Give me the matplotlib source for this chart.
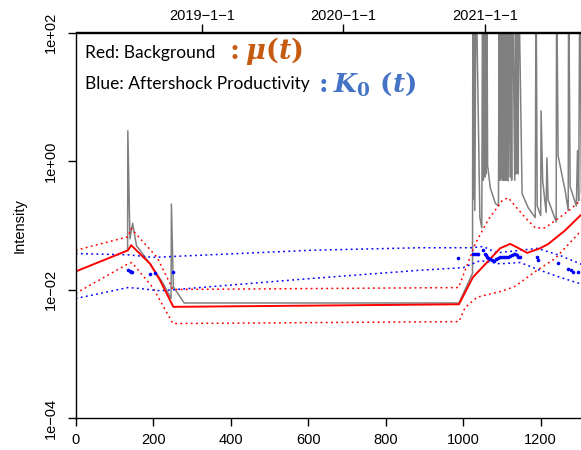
import matplotlib
matplotlib.use('Agg')
import matplotlib.pyplot as plt
import numpy as np
import pandas as pd

plt.rcParams['font.family'] = 'Liberation Sans'
plt.rcParams['mathtext.fontset'] = 'custom'
plt.rcParams['mathtext.it'] = 'DejaVu Serif:italic:bold'
plt.rcParams['mathtext.rm'] = 'DejaVu Serif:bold'

# all intensities below are log10 values
# background mu(t) and its band
mu_t = [0, 135, 143, 192, 218, 252, 989, 1025, 1061, 1095, 1121, 1141, 1165, 1198, 1220, 1263, 1302, 1320]
mu = [-1.72, -1.39, -1.31, -1.60, -1.86, -2.27, -2.23, -1.81, -1.58, -1.36, -1.29, -1.35, -1.43, -1.36, -1.29, -1.08, -0.85, -0.78]

mu_hi_t = [0, 135, 143, 210, 251, 988, 1031, 1064, 1100, 1116, 1134, 1160, 1186, 1211, 1237, 1271, 1302, 1320]
mu_hi = [-1.39, -1.18, -1.05, -1.50, -2.0, -1.97, -1.29, -0.92, -0.62, -0.57, -0.70, -0.88, -1.04, -1.04, -0.93, -0.78, -0.62, -0.55]

mu_lo_t = [0, 135, 145, 199, 251, 989, 1005, 1036, 1103, 1134, 1186, 1237, 1302, 1320]
mu_lo = [-2.06, -1.60, -1.58, -1.97, -2.53, -2.50, -2.28, -2.12, -2.02, -1.95, -1.72, -1.52, -1.10, -0.98]

# aftershock productivity K0(t): band and point estimates
k_hi_t = [0, 135, 199, 605, 889, 1025, 1051, 1087, 1191, 1250, 1302, 1320]
k_hi = [-1.44, -1.46, -1.50, -1.39, -1.35, -1.35, -1.33, -1.43, -1.36, -1.47, -1.60, -1.65]

k_lo_t = [0, 135, 158, 218, 605, 889, 1000, 1044, 1095, 1147, 1198, 1250, 1302, 1320]
k_lo = [-2.14, -1.97, -1.98, -2.02, -1.83, -1.70, -1.66, -1.55, -1.60, -1.58, -1.70, -1.81, -1.91, -1.95]

k0_t = [136, 139, 142, 146, 192, 205, 252, 987, 1025, 1030, 1035, 1038, 1052, 1055, 1058, 1061,
        1065, 1069, 1074, 1079, 1085, 1090, 1095, 1100, 1105, 1110, 1115, 1120, 1125, 1130, 1133,
        1138, 1142, 1147, 1190, 1193, 1245, 1271, 1278, 1284, 1296]
k0 = [-1.70, -1.71, -1.72, -1.73, -1.76, -1.75, -1.72, -1.51, -1.44, -1.44, -1.44, -1.44, -1.39, -1.44, -1.47, -1.49,
      -1.51, -1.53, -1.54, -1.55, -1.52, -1.51, -1.50, -1.50, -1.50, -1.50, -1.49, -1.48, -1.47, -1.45, -1.44,
      -1.47, -1.49, -1.50, -1.49, -1.54, -1.59, -1.68, -1.70, -1.72, -1.73]

# observed intensity (gray), spikes that run off the top are set to 3
gray_t = [134, 134.5, 140, 147, 150, 157, 192, 226, 246, 247, 252, 261, 280, 989, 1024,
          1025, 1027, 1028, 1030, 1033, 1043, 1048, 1050, 1052, 1054, 1056, 1057, 1059, 1061, 1063, 1070, 1083, 1091,
          1093, 1095, 1096, 1098, 1100, 1101, 1103, 1105, 1106, 1108, 1110, 1112, 1113, 1116, 1118, 1121, 1123,
          1125, 1127, 1133, 1135, 1136, 1139, 1142, 1143, 1152, 1168, 1186, 1188, 1191, 1200, 1201, 1205, 1214,
          1216, 1219, 1240, 1241, 1245, 1263, 1271, 1272, 1276, 1292, 1295, 1298, 1301, 1305, 1320]
gray = [-1.37, 0.47, -1.21, -0.97, -1.08, -1.32, -1.60, -1.91, -2.14, -0.67, -1.96, -2.04, -2.21, -2.21, -1.75,
        3, -0.60, 3, -0.77, 3, -0.88, -1.04, 3, -0.30, 3, -0.25, 3, -0.20, 3, -0.07, -0.42, -0.66, -0.70,
        3, -0.30, 3, -0.25, 3, -0.30, 3, -0.30, 3, -0.30, 3, -0.30, 3, -0.31, 3, -0.25, 3,
        -0.30, 3, -0.30, 3, -0.20, 3, -0.20, 3, -0.51, -0.73, -0.88, 3, -0.70, -0.85, 0.78, -0.30, -0.80,
        0.05, -0.60, -0.95, 3, 0.08, -0.46, -0.77, 3, -0.40, -0.70, 0.16, -0.62, 3, -0.50, -0.65]

x_ticks = [0, 200, 400, 600, 800, 1000, 1200]
y_ticks = [1e-4, 1e-2, 1e0, 1e2]
y_labels = ['1e\u221204', '1e\u221202', '1e+00', '1e+02']
start_date = '2018-02-09'
date_ticks = ['2019-01-01', '2020-01-01', '2021-01-01']
date_labels = ['2019\u22121\u22121', '2020\u22121\u22121', '2021\u22121\u22121']

fig = plt.figure(figsize=(5.81, 4.5), dpi=100)
ax = fig.add_axes([75.7/581, 32/450, 511.5/581, 385.5/450])

dots = (0, (1.2, 2.2))
ax.plot(gray_t, 10**np.array(gray), color='#808080', lw=1.1)
ax.plot(mu_hi_t, 10**np.array(mu_hi), color='red', lw=1.1, ls=dots)
ax.plot(mu_lo_t, 10**np.array(mu_lo), color='red', lw=1.1, ls=dots)
ax.plot(k_hi_t, 10**np.array(k_hi), color='blue', lw=1.1, ls=dots)
ax.plot(k_lo_t, 10**np.array(k_lo), color='blue', lw=1.1, ls=dots)
ax.plot(mu_t, 10**np.array(mu), color='red', lw=1.4)
ax.plot(k0_t, 10**np.array(k0), 'o', color='blue', ms=2.6, mec='none')

ax.set_yscale('log')
ax.set_xlim(0, 1320)
ax.set_ylim(1e-4, 1e2)
ax.minorticks_off()
ax.set_xticks(x_ticks)
ax.set_yticks(y_ticks, y_labels)
plt.setp(ax.get_yticklabels(), rotation=90, va='center')
ax.tick_params(direction='out', length=6, width=1, labelsize=10.5)
ax.tick_params(axis='y', pad=7)
ax.tick_params(axis='x', pad=4.5)
ax.set_ylabel('Intensity', fontsize=10.5, labelpad=12)
for s in ax.spines.values():
    s.set_linewidth(1)
ax.spines['right'].set_visible(False)

# date axis on top
day_pos = (pd.to_datetime(date_ticks) - pd.Timestamp(start_date)).days
top = ax.secondary_xaxis('top')
top.set_xticks(list(day_pos), date_labels)
top.tick_params(direction='out', length=6, width=1, labelsize=10.5, pad=0.5)
top.spines['top'].set_linewidth(1)

fig.text(85/581, 1 - 53/450, 'Red: Background', family='Lato', fontsize=12.5, va='center')
fig.text(224/581, 1 - 51/450, r'$:\mu(t)$', fontsize=19.5, color='#C55A11', va='center')
fig.text(85/581, 1 - 84/450, 'Blue: Aftershock Productivity', family='Lato', fontsize=12.5, va='center')
fig.text(313/581, 1 - 84/450, r'$:K_0\ (t)$', fontsize=19, color='#4472C4', va='center')

plt.savefig('out.png', dpi=100)
